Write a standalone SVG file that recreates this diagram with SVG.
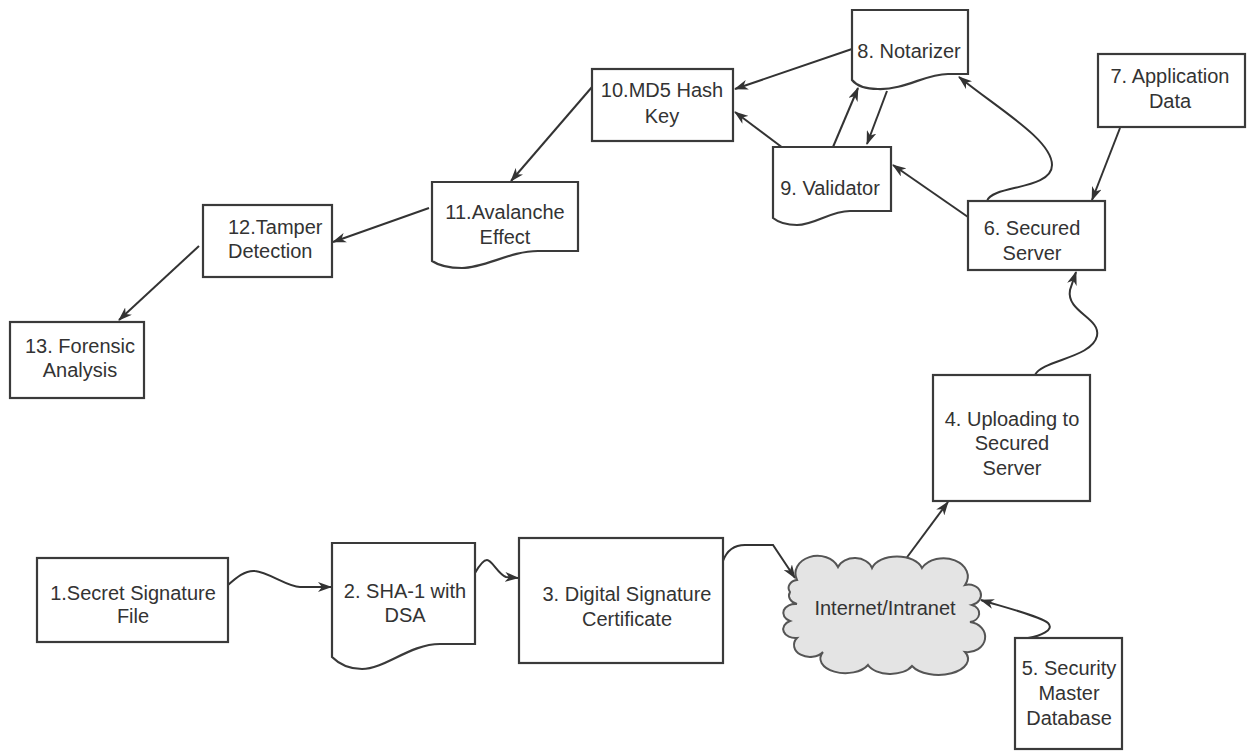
<svg xmlns="http://www.w3.org/2000/svg" width="1247" height="751" viewBox="0 0 1247 751">
<style>
.box{fill:#fff;stroke:#3a3a3a;stroke-width:2.2}
.cloud{fill:#e4e4e4;stroke:#555;stroke-width:2}
.t{font-family:"Liberation Sans",Arial,sans-serif;font-size:20px;fill:#333;text-anchor:middle}
.ts{text-anchor:start}
.c{fill:none;stroke:#333;stroke-width:2;marker-end:url(#ah)}
</style>
<defs>
<marker id="ah" viewBox="0 0 14 10" refX="13" refY="5" markerWidth="14" markerHeight="10" markerUnits="userSpaceOnUse" orient="auto">
<path d="M0,0 L14,5 L0,10 L4,5 z" fill="#333"/>
</marker>
</defs>
<rect width="1247" height="751" fill="#fff"/>

<g id="connectors">
<path class="c" d="M228,585 C236,578 245,570 255,571 C268,572 288,587 300,587 L331,587"/>
<path class="c" d="M475,573 C479,566 483,560 487,560 C492,560 498,574 506,577 L518,578"/>
<path class="c" d="M723,561 C727,550 735,545 745,545 L773,545 L795,578"/>
<path class="c" d="M905,560 L948,502"/>
<path class="c" d="M1028,638 C1040,636 1055,630 1048,623 C1040,616 1000,606 981,600"/>
<path class="c" d="M1035,375 C1042,360 1092,358 1097,336 C1101,318 1066,312 1070,290 L1076,272"/>
<path class="c" d="M1120,128 L1092,200"/>
<path class="c" d="M968,217 L893,165"/>
<path class="c" d="M987,201 C992,185 1052,190 1052,165 C1052,140 1000,110 959,77"/>
<path class="c" d="M833,147 L858,88"/>
<path class="c" d="M887,91 L867,144"/>
<path class="c" d="M852,49 L735,89"/>
<path class="c" d="M783,148 L735,112"/>
<path class="c" d="M592,87 L511,181"/>
<path class="c" d="M429,208 L333,242"/>
<path class="c" d="M199,246 L119,320"/>
</g>

<g id="n1">
<rect class="box" x="37" y="558" width="191" height="84"/>
<text class="t" x="133" y="600">1.Secret Signature</text>
<text class="t" x="133" y="623">File</text>
</g>
<g id="n2">
<path class="box" d="M332,543 H475 V644 H440 C410,644 385,669 362,669 C348,669 338,663 332,657 Z"/>
<text class="t" x="405" y="598">2. SHA-1 with</text>
<text class="t" x="405" y="622">DSA</text>
</g>
<g id="n3">
<rect class="box" x="519" y="538" width="204" height="125"/>
<text class="t" x="627" y="601">3. Digital Signature</text>
<text class="t" x="627" y="626">Certificate</text>
</g>
<g id="n4">
<rect class="box" x="933" y="375" width="157" height="126"/>
<text class="t" x="1012" y="426">4. Uploading to</text>
<text class="t" x="1012" y="450">Secured</text>
<text class="t" x="1012" y="475">Server</text>
</g>
<g id="n5">
<rect class="box" x="1015" y="638" width="107" height="111"/>
<text class="t" x="1069" y="675">5. Security</text>
<text class="t" x="1069" y="700">Master</text>
<text class="t" x="1069" y="725">Database</text>
</g>
<g id="cloud">
<path class="cloud" d="M797,580 A20,16 0 0 1 838,567 A18,14 0 0 1 872,568 A26,16 0 0 1 922,568 A24,18 0 0 1 965,585 A12,10 0 0 1 972,605 A12,9 0 0 1 970,622 A14,12 0 0 1 965,652 A26,14 0 0 1 912,666 A24,14 0 0 1 868,665 A24,14 0 0 1 823,652 A16,12 0 0 1 797,638 A12,9 0 0 1 790,621 A12,9 0 0 1 797,604 A12,9 0 0 1 790,592 A10,8 0 0 1 797,580 Z"/>
<text class="t" x="885" y="615">Internet/Intranet</text>
</g>
<g id="n6">
<rect class="box" x="968" y="201" width="137" height="69"/>
<text class="t" x="1032" y="235">6. Secured</text>
<text class="t" x="1032" y="260">Server</text>
</g>
<g id="n7">
<rect class="box" x="1098" y="54" width="147" height="73"/>
<text class="t" x="1170" y="83">7. Application</text>
<text class="t" x="1170" y="108">Data</text>
</g>
<g id="n8">
<path class="box" d="M852,10 H968 V74 H948 C925,74 905,90 878,89 C865,89 856,85 852,80 Z"/>
<text class="t" x="909" y="58">8. Notarizer</text>
</g>
<g id="n9">
<path class="box" d="M773,147 H891 V211 H850 C830,211 815,225 797,225 C787,225 778,222 773,218 Z"/>
<text class="t" x="830" y="195">9. Validator</text>
</g>
<g id="n10">
<rect class="box" x="592" y="69" width="141" height="72"/>
<text class="t" x="662" y="97">10.MD5 Hash</text>
<text class="t" x="662" y="123">Key</text>
</g>
<g id="n11">
<path class="box" d="M432,182 H578 V251 H538 C510,251 485,268 462,268 C448,268 438,265 432,261 Z"/>
<text class="t" x="505" y="219">11.Avalanche</text>
<text class="t" x="505" y="244">Effect</text>
</g>
<g id="n12">
<rect class="box" x="203" y="205" width="129" height="72"/>
<text class="t ts" x="228" y="234">12.Tamper</text>
<text class="t ts" x="228" y="258">Detection</text>
</g>
<g id="n13">
<rect class="box" x="10" y="322" width="134" height="76"/>
<text class="t" x="80" y="353">13. Forensic</text>
<text class="t" x="80" y="377">Analysis</text>
</g>
</svg>
